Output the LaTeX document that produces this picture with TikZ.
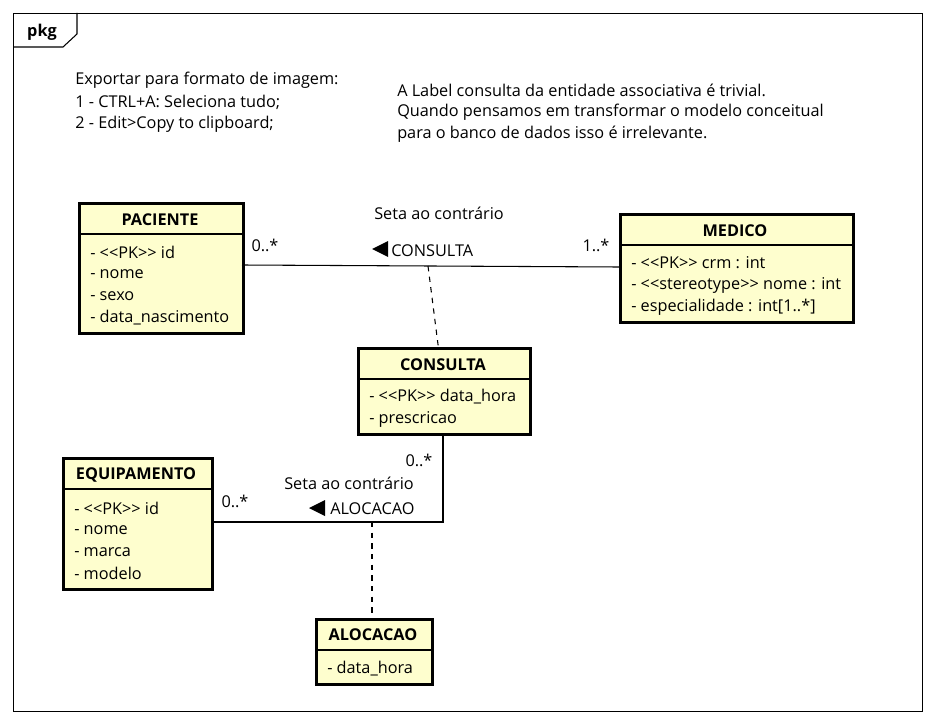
\documentclass[tikz,border=0pt]{standalone}
\usepackage{fontspec}
\setmainfont{Open Sans}
\usetikzlibrary{calc}
\definecolor{umlyellow}{HTML}{FEFECE}
\def\px{0.75pt}
\def\fs{\fontsize{12.2pt}{14pt}\selectfont}
\tikzset{
  cls/.style={draw, line width=2pt, fill=umlyellow, inner sep=0pt, anchor=north west},
  ctitle/.style={font=\fs\bfseries, inner sep=0pt, anchor=center},
  attr/.style={font=\fs, inner sep=0pt, anchor=west},
  lbl/.style={font=\fs, inner sep=0pt, anchor=center},
  sep/.style={line width=0.8pt},
  conn/.style={line width=0.8pt},
  dconn/.style={line width=0.8pt, dash pattern=on 4pt off 4pt},
  tri/.style={fill=black, draw=none}
}
\begin{document}
\begin{tikzpicture}[x=0.75pt,y=-0.75pt]
\useasboundingbox (0,0) rectangle (936,724);
% frame
\node[draw, line width=0.8pt, inner sep=0pt, anchor=north west, minimum width=909*\px, minimum height=698*\px] (frame) at (13,13) {};
\coordinate (t1) at (77,13);
\coordinate (t2) at (77,34);
\coordinate (t3) at (63,47);
\coordinate (t4) at (13,47);
\draw[line width=0.8pt] (t1) -- (t2) -- (t3) -- (t4);
\node[font=\fs\bfseries, inner sep=0pt] (pkg) at (42,32) {pkg};

% notes
\node[attr] (n1a) at (75,80) {Exportar para formato de imagem:};
\node[attr] (n1b) at (75,102) {1 - CTRL+A: Seleciona tudo;};
\node[attr] (n1c) at (75,124) {2 - Edit>Copy to clipboard;};
\node[attr] (n2a) at (397,90) {A Label consulta da entidade associativa é trivial.};
\node[attr] (n2b) at (397,112) {Quando pensamos em transformar o modelo conceitual};
\node[attr] (n2c) at (397,134) {para o banco de dados isso é irrelevante.};

% PACIENTE
\node[cls, minimum width=164*\px, minimum height=130*\px] (pac) at (78,202) {};
\draw[sep] (78,234) -- (242,234);
\node[ctitle] (pact) at (160,220) {PACIENTE};
\node[attr] (pac1) at (90,252) {- <{}<PK>{}> id};
\node[attr] (pac2) at (90,274) {- nome};
\node[attr] (pac3) at (90,296) {- sexo};
\node[attr] (pac4) at (90,318) {- data\_nascimento};

% MEDICO
\node[cls, minimum width=233*\px, minimum height=108*\px] (med) at (619,213) {};
\draw[sep] (619,245) -- (852,245);
\node[ctitle] (medt) at (735,231) {MEDICO};
\node[attr] (med1) at (631,263) {- <{}<PK>{}> crm : int};
\node[attr] (med2) at (631,285) {- <{}<stereotype>{}> nome : int};
\node[attr] (med3) at (631,307) {- especialidade : int[1..*]};

% CONSULTA
\node[cls, minimum width=172*\px, minimum height=86*\px] (cons) at (357,347) {};
\draw[sep] (357,379) -- (529,379);
\node[ctitle] (const) at (443,365) {CONSULTA};
\node[attr] (cons1) at (369,397) {- <{}<PK>{}> data\_hora};
\node[attr] (cons2) at (369,419) {- prescricao};

% EQUIPAMENTO
\node[cls, minimum width=149*\px, minimum height=131*\px] (equ) at (62,457) {};
\draw[sep] (62,489) -- (211,489);
\node[ctitle] (equt) at (136,475) {EQUIPAMENTO};
\node[attr] (equ1) at (74,508) {- <{}<PK>{}> id};
\node[attr] (equ2) at (74,530) {- nome};
\node[attr] (equ3) at (74,552) {- marca};
\node[attr] (equ4) at (74,573) {- modelo};

% ALOCACAO
\node[cls, minimum width=116*\px, minimum height=65*\px] (alo) at (315,618) {};
\draw[sep] (315,650) -- (431,650);
\node[ctitle] (alot) at (373,635) {ALOCACAO};
\node[attr] (alo1) at (327,669) {- data\_hora};

% association PACIENTE - MEDICO
\coordinate (pe) at (242,265);
\coordinate (mw) at (619,267);
\draw[conn] (pe) -- (mw);
\node[lbl] (m1) at (265,245) {0..*};
\node[lbl] (m2) at (596,245) {1..*};
\node[lbl] (s1) at (439,213) {Seta ao contrário};
\node[attr] (c1) at (391,251) {CONSULTA};
\coordinate (ar1) at (372,249);
\draw[tri] (ar1) -- ++(16,-8) -- ++(0,16) -- cycle;
\coordinate (d1) at (428,266);
\draw[dconn] (d1) -- ([xshift=-6*\px]cons.north);

% association CONSULTA - EQUIPAMENTO
\coordinate (ee) at (211,522);
\draw[conn] (cons.south -| 443,0) |- (ee);
\node[lbl] (m3) at (419,460) {0..*};
\node[lbl] (m4) at (235,501) {0..*};
\node[lbl] (s2) at (349,483) {Seta ao contrário};
\node[attr] (c2) at (330,509) {ALOCACAO};
\coordinate (ar2) at (309,508);
\draw[tri] (ar2) -- ++(16,-8) -- ++(0,16) -- cycle;
\coordinate (d2) at (372,522);
\draw[dconn] (d2) -- (alo.north -| d2);
\end{tikzpicture}
\end{document}
